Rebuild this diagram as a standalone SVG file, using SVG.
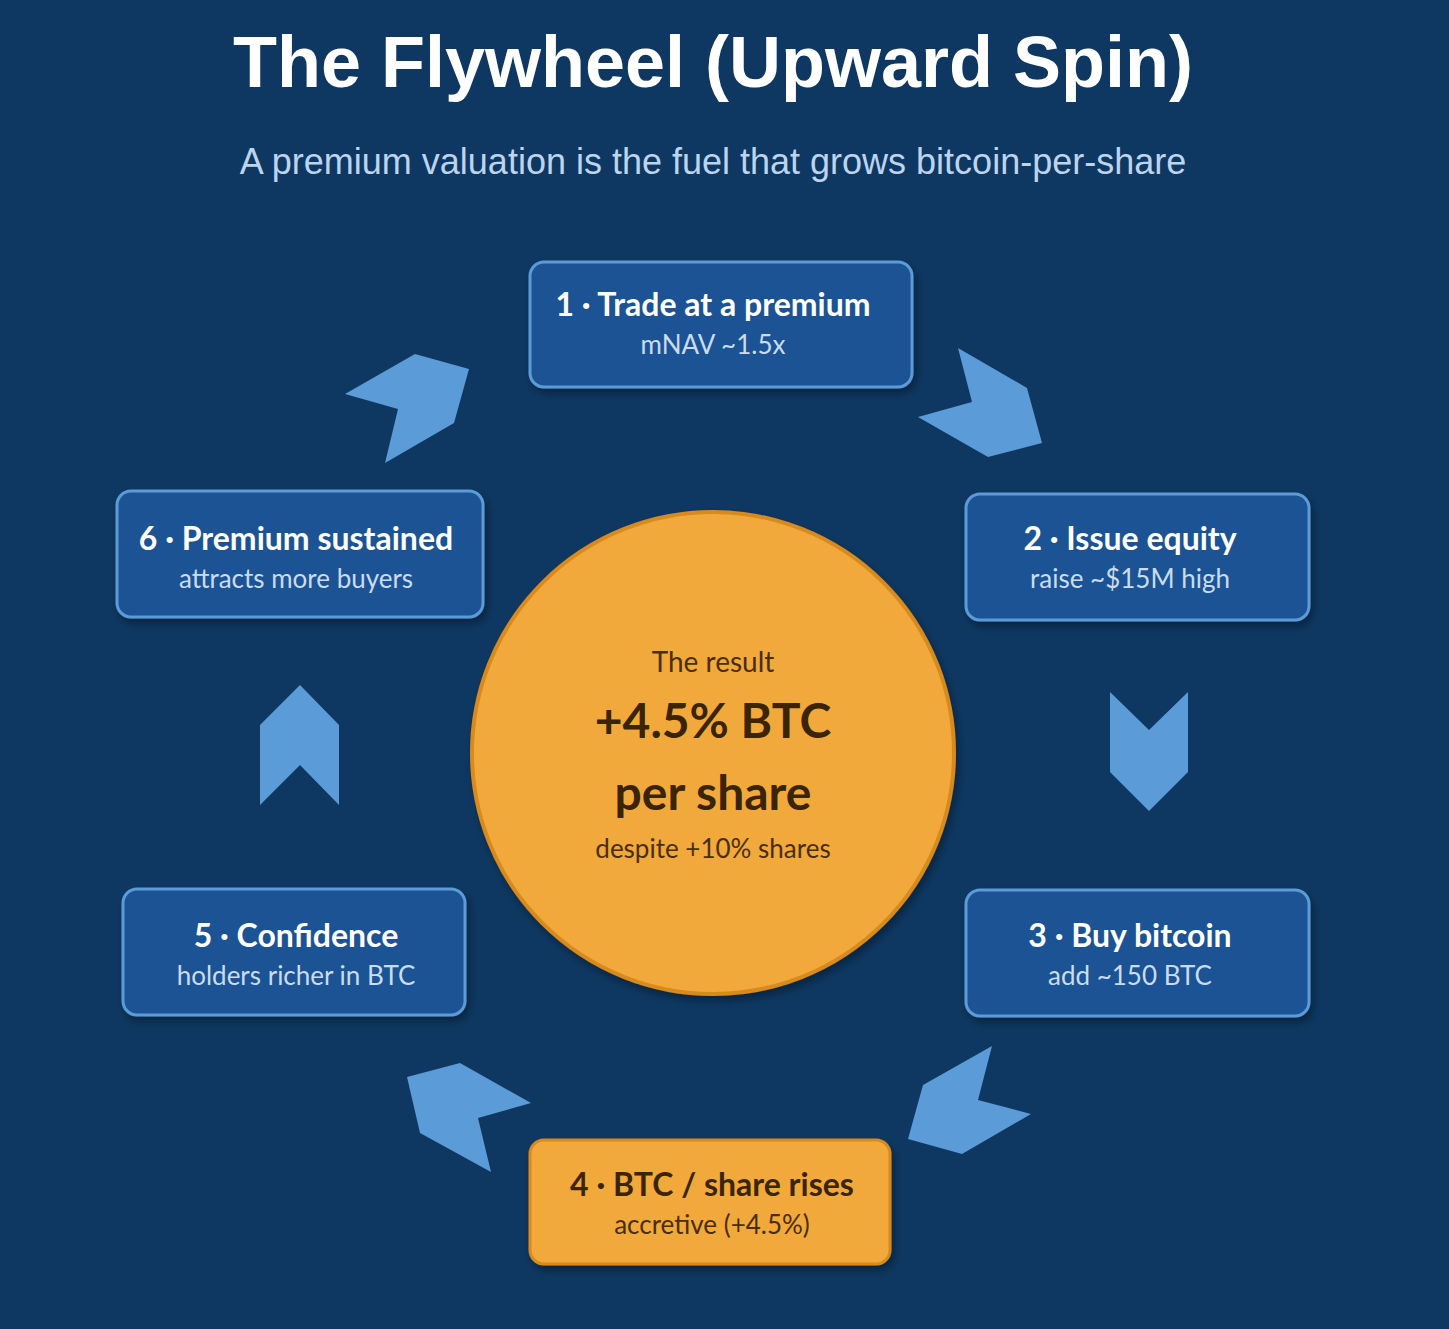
<svg xmlns="http://www.w3.org/2000/svg" width="1449" height="1329" viewBox="0 0 1449 1329">
<style>
.box{fill:#1c5294;stroke:#5a9bd8;stroke-width:3}
.obox{fill:#f2a93b;stroke:#d98a1c;stroke-width:3}
.h{font-family:Lato,"Open Sans",sans-serif;font-weight:bold;font-size:32px;fill:#fff;text-anchor:middle}
.s{font-family:Lato,"Open Sans",sans-serif;font-size:26px;fill:#c9dcf2;text-anchor:middle}
.arr{fill:#5b9bd8}
</style>
<defs><filter id="sh" x="-10%" y="-10%" width="130%" height="140%"><feDropShadow dx="3" dy="5" stdDeviation="4" flood-color="#000" flood-opacity="0.35"/></filter></defs>
<rect width="1449" height="1329" fill="#0e3862"/>
<text x="713" y="87" font-family="Liberation Sans,Arial,sans-serif" font-weight="bold" font-size="72" fill="#fff" text-anchor="middle">The Flywheel (Upward Spin)</text>
<text x="713" y="174" font-family="Liberation Sans,Arial,sans-serif" font-size="36" fill="#bcd4ee" text-anchor="middle">A premium valuation is the fuel that grows bitcoin-per-share</text>
<g id="connectors">
<polygon class="arr" points="345,394 415,354 469,369 454,423 385,463 398,409"/>
<polygon class="arr" points="958,348 1027,388 1042,443 988,457 918,417 972,402"/>
<polygon class="arr" points="1110,692 1149,730 1188,692 1188,772 1149,811 1110,772"/>
<polygon class="arr" points="992,1046 978,1100 1031,1114 962,1154 908,1139 923,1085"/>
<polygon class="arr" points="407,1077 460,1063 531,1103 478,1118 491,1172 420,1133"/>
<polygon class="arr" points="260,805 300,765 339,805 339,725 300,685 260,725"/>
</g>
<g id="center"><circle cx="713" cy="753" r="241" fill="#f2a93b" stroke="#d98a1c" stroke-width="4" filter="url(#sh)"/>
<text x="713" y="672" font-family="Lato,'Open Sans',sans-serif" font-size="28" fill="#4a2e05" text-anchor="middle">The result</text>
<text x="713" y="738" font-family="Lato,'Open Sans',sans-serif" font-weight="bold" font-size="48" fill="#3a2402" text-anchor="middle">+4.5% BTC</text>
<text x="713" y="810" font-family="Lato,'Open Sans',sans-serif" font-weight="bold" font-size="48" fill="#3a2402" text-anchor="middle">per share</text>
<text x="713" y="858" font-family="Lato,'Open Sans',sans-serif" font-size="26" fill="#4a2e05" text-anchor="middle">despite +10% shares</text></g>
<g id="n1"><rect class="box" x="530" y="262" width="382" height="125" rx="14" filter="url(#sh)"/><text class="h" x="713" y="316">1 · Trade at a premium</text><text class="s" x="713" y="354">mNAV ~1.5x</text></g>
<g id="n2"><rect class="box" x="966" y="494" width="343" height="126" rx="14" filter="url(#sh)"/><text class="h" x="1130" y="550">2 · Issue equity</text><text class="s" x="1130" y="588">raise ~$15M high</text></g>
<g id="n3"><rect class="box" x="966" y="890" width="343" height="126" rx="14" filter="url(#sh)"/><text class="h" x="1130" y="947">3 · Buy bitcoin</text><text class="s" x="1130" y="985">add ~150 BTC</text></g>
<g id="n4"><rect class="obox" x="530" y="1140" width="360" height="124" rx="14" filter="url(#sh)"/><text class="h" x="712" y="1196" fill="#3a2402" style="fill:#3a2402">4 · BTC / share rises</text><text class="s" x="712" y="1234" style="fill:#4a2e05">accretive (+4.5%)</text></g>
<g id="n5"><rect class="box" x="123" y="889" width="342" height="126" rx="14" filter="url(#sh)"/><text class="h" x="296" y="947">5 · Confidence</text><text class="s" x="296" y="985">holders richer in BTC</text></g>
<g id="n6"><rect class="box" x="117" y="491" width="366" height="126" rx="14" filter="url(#sh)"/><text class="h" x="296" y="550">6 · Premium sustained</text><text class="s" x="296" y="588">attracts more buyers</text></g>
</svg>
